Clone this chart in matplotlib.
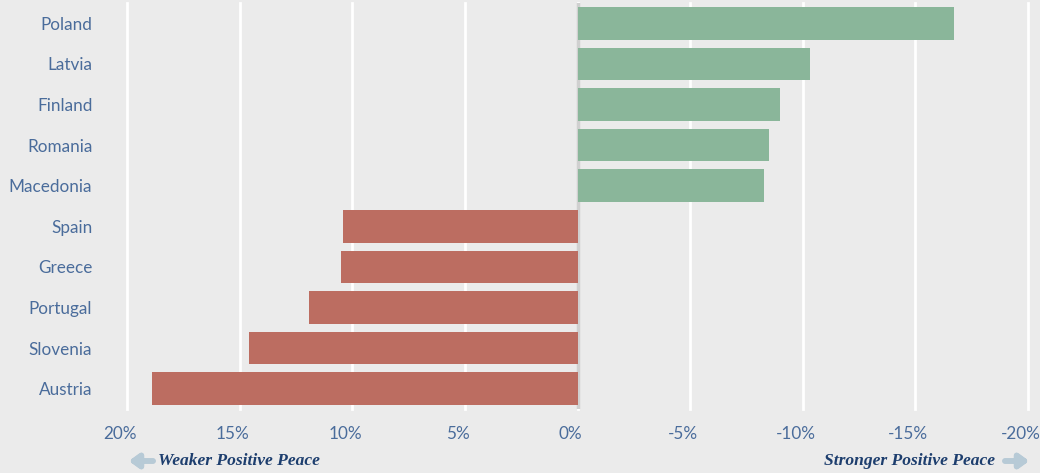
import matplotlib.pyplot as plt
import matplotlib.transforms as mtransforms

# data (percent change, negative = stronger positive peace)
countries = ['Poland', 'Latvia', 'Finland', 'Romania', 'Macedonia',
             'Spain', 'Greece', 'Portugal', 'Slovenia', 'Austria']
change = [-16.7, -10.3, -9.0, -8.5, -8.3, 10.4, 10.5, 11.9, 14.6, 18.9]
xticks = [20, 15, 10, 5, 0, -5, -10, -15, -20]
xtick_labels = ['20%', '15%', '10%', '5%', '0%', '-5%', '-10%', '-15%', '-20%']

bg = '#ebebeb'
green = '#8ab69a'
red = '#bc6d61'
txt = '#4a6c9b'
navy = '#1d3e6e'
arrow_col = '#b7cad6'

fig = plt.figure(figsize=(10.4, 4.73), dpi=100, facecolor=bg)
ax = fig.add_axes([127 / 1040, 1 - 409 / 473, (1028 - 127) / 1040, (409 - 3) / 473])
ax.set_facecolor(bg)

colors = [green if v < 0 else red for v in change]
ax.barh(range(len(countries)), change, height=0.8, color=colors, zorder=3)

ax.set_xlim(20, -20)
ax.set_ylim(len(countries) - 0.5, -0.5)
ax.set_yticks(range(len(countries)))
ax.set_yticklabels(countries)
ax.set_xticks(xticks)
ax.set_xticklabels(xtick_labels)

for s in ax.spines.values():
    s.set_visible(False)
ax.tick_params(length=0, colors=txt, labelsize=12.3)
ax.tick_params(axis='y', pad=25)
ax.tick_params(axis='x', pad=12)
for lab in ax.get_yticklabels() + ax.get_xticklabels():
    lab.set_family('Lato')
    lab.set_color(txt)

# x labels sit a bit left of their gridlines
shift = mtransforms.ScaledTranslation(-7 / 100, 0, fig.dpi_scale_trans)
for lab in ax.get_xticklabels():
    lab.set_transform(lab.get_transform() + shift)

ax.grid(axis='x', color='white', linewidth=2, zorder=0)
for g in ax.get_xgridlines():
    g.set_clip_on(False)
ax.axvline(0, color='#d0d0d0', linewidth=2.5, zorder=2)

# bottom direction notes
note = dict(va='center', fontsize=12.6, style='italic', weight='bold',
            family='Liberation Serif', color=navy)
fig.text(158 / 1040, 1 - 461 / 473, 'Weaker Positive Peace', ha='left', **note)
fig.text(995 / 1040, 1 - 461 / 473, 'Stronger Positive Peace', ha='right', **note)
ap = dict(arrowstyle='-|>,head_length=0.55,head_width=0.4', color=arrow_col, lw=4,
          shrinkA=0, shrinkB=0)
fig.add_artist(plt.annotate('', xy=(129 / 1040, 1 - 461 / 473), xytext=(153 / 1040, 1 - 461 / 473),
                            xycoords='figure fraction', arrowprops=ap))
fig.add_artist(plt.annotate('', xy=(1029 / 1040, 1 - 461 / 473), xytext=(1005 / 1040, 1 - 461 / 473),
                            xycoords='figure fraction', arrowprops=ap))

fig.savefig('out.png', dpi=100, facecolor=bg)
